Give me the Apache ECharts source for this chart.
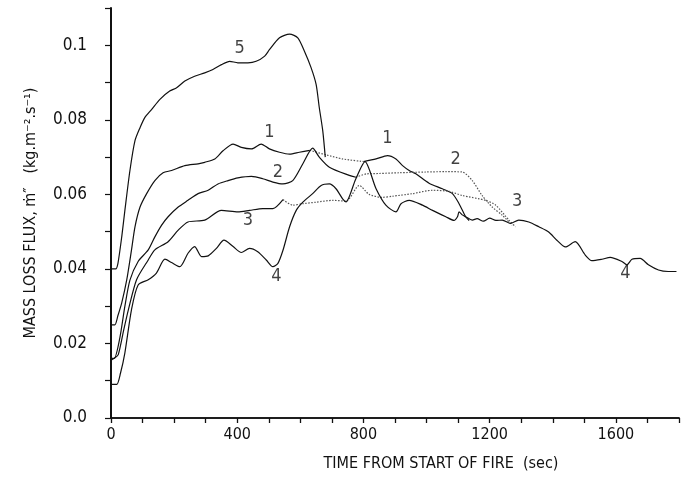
<!DOCTYPE html>
<html>
<head>
<meta charset="utf-8">
<script src="https://cdn.jsdelivr.net/npm/echarts@6/dist/echarts.min.js"></script>
<style>
  html, body { margin: 0; padding: 0; background: #fff; }
  #chart { width: 682px; height: 477px; }
</style>
</head>
<body>
<div id="chart"></div>
<script>
// [time (sec), mass loss flux (kg.m-2.s-1)]
const curve1 = [[0,0.025],[12,0.025],[22,0.0275],[34,0.0309],[50,0.0371],[65,0.0451],[76,0.0513],[92,0.0566],[113,0.0602],[139,0.0637],[165,0.0658],[192,0.0664],[234,0.0677],[276,0.0682],[297,0.0686],[329,0.0695],[355,0.0717],[387,0.0735],[413,0.0726],[445,0.0722],[476,0.0735],[502,0.0722],[534,0.0713],[566,0.0708],[597,0.0713],[630,0.0718],[682,0.0706],[734,0.0695],[800,0.0688],[840,0.0695],[876,0.0704],[903,0.0695],[924,0.0677],[945,0.0664],[966,0.0655],[1008,0.0630],[1050,0.0615],[1082,0.0602],[1103,0.0575],[1124,0.0540],[1135,0.0530]];
const curve2 = [[0,0.016],[10,0.016],[28,0.0215],[44,0.030],[60,0.0370],[86,0.0420],[118,0.0451],[139,0.0486],[160,0.0517],[181,0.0540],[213,0.0566],[244,0.0584],[276,0.0602],[308,0.0611],[339,0.0628],[371,0.0637],[402,0.0644],[445,0.0648],[481,0.0642],[513,0.0633],[545,0.0628],[576,0.0637],[608,0.0682],[639,0.0724],[660,0.0700],[692,0.0673],[755,0.0651],[776,0.0646],[810,0.0655],[850,0.0656],[913,0.0658],[998,0.0660],[1061,0.0661],[1113,0.0660],[1145,0.0637],[1176,0.0597],[1208,0.0566],[1240,0.0544],[1271,0.0517]];
const curve3 = [[0,0.0155],[10,0.016],[23,0.0170],[40,0.0235],[55,0.0290],[81,0.0371],[118,0.0424],[139,0.0451],[181,0.0473],[213,0.0504],[244,0.0526],[297,0.0531],[350,0.0557],[402,0.0553],[439,0.0557],[481,0.0562],[513,0.0562],[545,0.0586],[576,0.0571],[608,0.0575],[650,0.0579],[703,0.0584],[745,0.0582],[787,0.0624],[818,0.0600],[860,0.0592],[892,0.0595],[956,0.0602],[1019,0.0611],[1071,0.0608],[1113,0.0597],[1187,0.0584],[1219,0.0571],[1261,0.0531],[1282,0.0513]];
const curve4 = [[0,0.009],[18,0.009],[30,0.012],[44,0.0175],[65,0.0291],[86,0.0357],[118,0.0371],[144,0.0389],[171,0.0426],[192,0.0417],[218,0.0406],[244,0.0442],[265,0.0460],[287,0.0433],[308,0.0435],[334,0.0455],[358,0.0477],[387,0.0460],[413,0.0444],[439,0.0455],[465,0.0446],[492,0.0424],[513,0.0406],[529,0.0415],[545,0.0450],[566,0.0513],[587,0.0557],[608,0.0579],[639,0.0602],[666,0.0624],[692,0.0628],[713,0.0615],[734,0.0588],[745,0.0580],[775,0.0640],[805,0.0688],[840,0.0615],[871,0.0571],[903,0.0553],[919,0.0575],[945,0.0584],[987,0.0571],[1019,0.0557],[1061,0.0540],[1087,0.0530],[1098,0.0540],[1103,0.0553],[1113,0.0545],[1124,0.0540],[1145,0.0531],[1160,0.0535],[1180,0.0528],[1200,0.0536],[1220,0.0530],[1240,0.0531],[1266,0.0522],[1292,0.0531],[1324,0.0526],[1356,0.0513],[1387,0.0499],[1413,0.0477],[1440,0.0459],[1471,0.0473],[1503,0.0437],[1524,0.0422],[1556,0.0426],[1582,0.0431],[1619,0.0420],[1635,0.0411],[1651,0.0426],[1677,0.0428],[1703,0.0411],[1735,0.0397],[1766,0.0393],[1792,0.0393]];
const curve5 = [[0,0.040],[15,0.040],[22,0.0415],[34,0.0486],[44,0.0557],[60,0.0664],[76,0.0744],[92,0.0779],[107,0.0806],[129,0.0828],[155,0.0855],[186,0.0877],[208,0.0886],[234,0.0904],[265,0.0917],[297,0.0926],[323,0.0935],[350,0.0948],[376,0.0957],[402,0.0953],[434,0.0953],[460,0.0957],[487,0.0971],[502,0.0988],[534,0.1020],[566,0.1030],[592,0.1020],[613,0.0984],[634,0.0940],[650,0.0895],[660,0.0833],[671,0.0771],[679,0.0700]];

// time spans where the trace is faint / dotted in the original
const faint1 = [630, 800];
const faint2 = [776, 1271];
const faint3 = [545, 1282];

// curve numbers written on the plot
const curveLabels = [[408,0.0993,'5'],[502,0.0766,'1'],[529,0.0660,'2'],[434,0.0531,'3'],[524,0.0380,'4'],[876,0.0749,'1'],[1092,0.0695,'2'],[1287,0.0580,'3'],[1630,0.0389,'4']];

const xTicks = [0, 400, 800, 1200, 1600];

const font = "'DejaVu Sans Condensed', 'Liberation Sans Narrow', sans-serif";
const ink = '#111';

function solidPart(data, span) {
  return data.map(p => (p[0] > span[0] && p[0] < span[1]) ? [p[0], '-'] : p);
}
function faintPart(data, span) {
  return data.filter(p => p[0] >= span[0] && p[0] <= span[1]);
}
function line(data, dotted) {
  return {
    type: 'line',
    data: data,
    showSymbol: false,
    symbol: 'none',
    connectNulls: false,
    smooth: 0.25,
    lineStyle: dotted
      ? {color: '#555', width: 1.2, type: [1.5, 1.5]}
      : {color: ink, width: 1.2},
    silent: true
  };
}

const chart = echarts.init(document.getElementById('chart'), null, {renderer: 'canvas'});

const option = {
  animation: false,
  backgroundColor: '#fff',
  grid: {left: 111, right: 0, top: 8, bottom: 58},
  xAxis: [
    {
      type: 'value',
      min: 0,
      max: 1800,
      interval: 100,
      name: 'TIME FROM START OF FIRE  (sec)',
      nameLocation: 'middle',
      nameGap: 38,
      nameTextStyle: {color: ink, fontFamily: font, fontSize: 16, padding: [0, 0, 0, 92]},
      axisLine: {show: true, onZero: false, lineStyle: {color: ink, width: 1.5}},
      axisTick: {show: true, length: 5, lineStyle: {color: ink, width: 1.3}},
      axisLabel: {
        color: ink, fontFamily: font, fontSize: 16, margin: 9,
        formatter: v => xTicks.indexOf(v) >= 0 ? String(v) : ''
      },
      splitLine: {show: false}
    },
    {
      type: 'value',
      position: 'top',
      min: 0,
      max: 1800,
      axisLine: {show: true, lineStyle: {color: ink, width: 1.5}},
      axisTick: {show: false},
      axisLabel: {show: false},
      splitLine: {show: false}
    }
  ],
  yAxis: {
    type: 'value',
    min: 0,
    max: 0.11,
    interval: 0.01,
    name: 'MASS LOSS FLUX, ṁ″   (kg.m⁻².s⁻¹)',
    nameLocation: 'middle',
    nameGap: 72,
    nameTextStyle: {color: ink, fontFamily: font, fontSize: 16},
    axisLine: {show: true, lineStyle: {color: ink, width: 2}},
    axisTick: {show: true, length: 6, lineStyle: {color: ink, width: 1.2}},
    axisLabel: {
      color: ink, fontFamily: font, fontSize: 17, margin: 24,
      formatter: v => {
        const k = Math.round(v * 100);
        if (k % 2 !== 0 || k > 10) return '';
        if (k === 0) return '0.0';
        if (k === 10) return '0.1';
        return (k / 100).toFixed(2);
      }
    },
    splitLine: {show: false}
  },
  series: [
    line(solidPart(curve1, faint1), false),
    line(faintPart(curve1, faint1), true),
    line(solidPart(curve2, faint2), false),
    line(faintPart(curve2, faint2), true),
    line(solidPart(curve3, faint3), false),
    line(faintPart(curve3, faint3), true),
    line(curve4, false),
    line(curve5, false),
    {
      type: 'scatter',
      data: curveLabels,
      symbolSize: 0,
      silent: true,
      label: {
        show: true,
        position: 'inside',
        formatter: p => p.data[2],
        color: ink,
        fontFamily: font,
        fontSize: 18
      }
    }
  ]
};

chart.setOption(option);
</script>
</body>
</html>
